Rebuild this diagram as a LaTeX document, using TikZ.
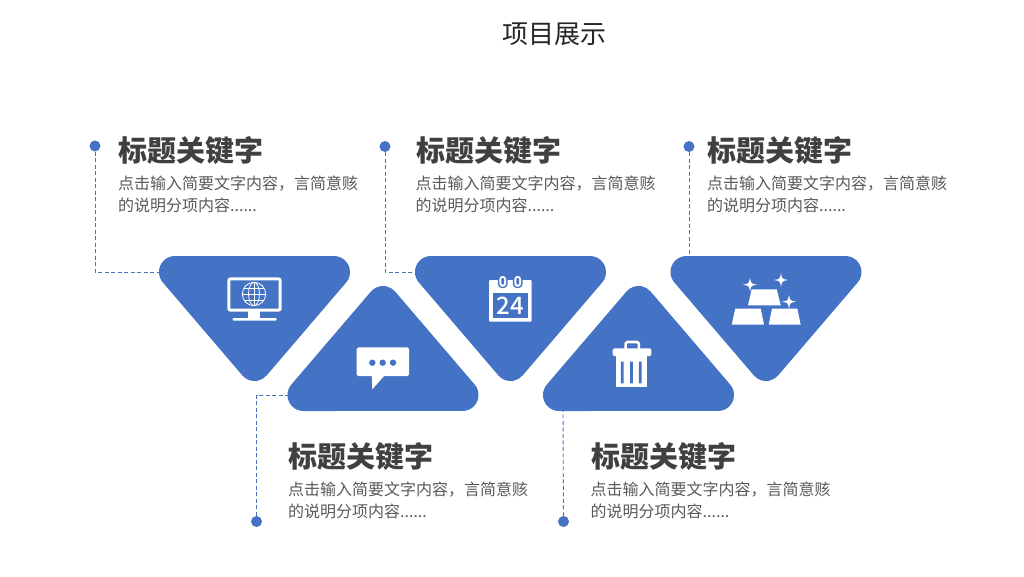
\documentclass[tikz,border=0pt]{standalone}
\usepackage{fontspec}
\setmainfont{Noto Sans CJK SC}
\newfontfamily\medfont{Noto Sans CJK SC Medium}
\definecolor{blu}{HTML}{4472C4}
\definecolor{headc}{HTML}{404040}
\definecolor{bodyc}{HTML}{595959}
\newcommand{\tri}[3]{% cx, base y, yscale
  \fill[blu,shift={(#1,#2)},xscale=0.995,yscale=#3] (-80,0) arc[start angle=270,end angle=139.2,radius=16] -- (-12.1,119.5) arc[start angle=139.2,end angle=40.8,radius=16] -- (92.1,26.5) arc[start angle=40.8,end angle=-90,radius=16] -- cycle;
}
\newcommand{\spark}[3]{%
  \fill[white] (#1,#2-#3) .. controls (#1+0.15*#3,#2-0.15*#3) .. (#1+#3,#2) .. controls (#1+0.15*#3,#2+0.15*#3) .. (#1,#2+#3) .. controls (#1-0.15*#3,#2+0.15*#3) .. (#1-#3,#2) .. controls (#1-0.15*#3,#2-0.15*#3) .. (#1,#2-#3) -- cycle;
}
\tikzset{
  head/.style={anchor=west,inner sep=0pt,text=headc,font=\fontsize{29}{29}\selectfont\bfseries},
  para/.style={anchor=north west,inner sep=0pt,text=bodyc,align=left,font=\fontsize{16}{22}\selectfont},
  dotn/.style={circle,fill=blu,minimum size=11pt,inner sep=0pt},
  link/.style={draw=blu!90!gray,line width=0.9pt,dash pattern=on 4pt off 2.5pt},
}
\begin{document}
\begin{tikzpicture}[x=1pt,y=-1pt]
\useasboundingbox (0,0) rectangle (1024,576);
\fill[white] (0,0) rectangle (1024,576);
\node[inner sep=0pt,text=black!85,font=\fontsize{26}{26}\selectfont] (title) at (554,34.5) {项目展示};
% triangles
\tri{254.5}{256}{1}\tri{383}{411}{-1}\tri{510.5}{256}{1}\tri{638.5}{411}{-1}\tri{766}{256}{1}
\coordinate (t1e) at (160,272);
\coordinate (t2e) at (289,395);
\coordinate (t3e) at (416,272);
\coordinate (t4e) at (563,411);
\coordinate (t5e) at (689,256);
% dots
\node[dotn] (d1) at (95,146) {};
\node[dotn] (d2) at (256.5,521.5) {};
\node[dotn] (d3) at (385,146.5) {};
\node[dotn] (d4) at (563.5,521.5) {};
\node[dotn] (d5) at (689,146.5) {};
\draw[link] (d1) |- (t1e);
\draw[link] (d2) |- (t2e);
\draw[link] (d3) |- (t3e);
\draw[link] (d4) -- (t4e);
\draw[link] (d5) -- (t5e);
% text
\node[head] (h1) at (118.5,151) {标题关键字};
\node[para] (b1) at (118,176) {点击输入简要文字内容，言简意赅\\的说明分项内容......};
\node[head] (h3) at (416,151) {标题关键字};
\node[para] (b3) at (415.5,176) {点击输入简要文字内容，言简意赅\\的说明分项内容......};
\node[head] (h5) at (707,151) {标题关键字};
\node[para] (b5) at (707,176) {点击输入简要文字内容，言简意赅\\的说明分项内容......};
\node[head] (h2) at (288.5,457) {标题关键字};
\node[para] (b2) at (288,482) {点击输入简要文字内容，言简意赅\\的说明分项内容......};
\node[head] (h4) at (591,457) {标题关键字};
\node[para] (b4) at (590.5,482) {点击输入简要文字内容，言简意赅\\的说明分项内容......};
% monitor icon
\draw[white,line width=3pt,rounded corners=2pt] (228.8,278.8) rectangle (280.2,310.2);
\fill[white] (248,311) rectangle (260,318);
\fill[white,rounded corners=1pt] (232.7,318) rectangle (276.7,320.7);
\begin{scope}[white,line width=0.8pt]
\draw (254,294) circle (11.7);
\draw (254,294) ellipse (5.5 and 11.7);
\draw (254,282.3) -- (254,305.7);
\draw (242.3,294) -- (265.7,294);
\draw (244,288) -- (264,288);
\draw (244,300) -- (264,300);
\end{scope}
% chat icon
\fill[white,rounded corners=1.5pt] (356.7,347.3) rectangle (409,376);
\fill[white] (371.7,375) -- (372.3,389.3) -- (385,375) -- cycle;
\fill[blu] (372.3,362.7) circle (3.2) (382.7,362.7) circle (3.2) (393,362.7) circle (3.2);
% calendar icon
\fill[white,rounded corners=1pt] (489,280) rectangle (531.7,321.7);
\fill[blu] (492.7,293.3) rectangle (527.7,317.7);
\foreach \cx in {502.7,517.7}{
  \fill[blu,rounded corners=3.8pt] (\cx-4.8,274.8) rectangle (\cx+4.8,288);
  \fill[white,rounded corners=3pt] (\cx-3.3,276) rectangle (\cx+3.3,286.8);
  \fill[blu,rounded corners=1pt] (\cx-1.4,278) rectangle (\cx+1.4,284.5);
}
\node[inner sep=0pt,text=white,font=\fontsize{24}{24}\medfont] (cal) at (510.5,306) {24};
% trash icon
\fill[white,rounded corners=1.5pt] (612.7,348.3) rectangle (651.3,356);
\draw[white,line width=2.6pt,rounded corners=1.5pt] (625.6,349) -- (625.6,342) -- (638.8,342) -- (638.8,349);
\fill[white] (616,356) rectangle (647.3,386.7);
\fill[blu] (620.9,361.7) rectangle (623.7,383.3) (630,361.7) rectangle (632.8,383.3) (638.8,361.7) rectangle (641.6,383.3);
% gold icon
\fill[white] (751.7,289.3) -- (776.7,289.3) -- (780.7,305.3) -- (748,305.3) -- cycle;
\fill[white] (735.3,308.7) -- (760.7,308.7) -- (764,324.7) -- (731.7,324.7) -- cycle;
\fill[white] (772,308.7) -- (797.3,308.7) -- (800.7,324.7) -- (768.7,324.7) -- cycle;
\spark{750}{284.7}{7}\spark{781}{280}{7}\spark{789}{301.7}{7}
\end{tikzpicture}
\end{document}
